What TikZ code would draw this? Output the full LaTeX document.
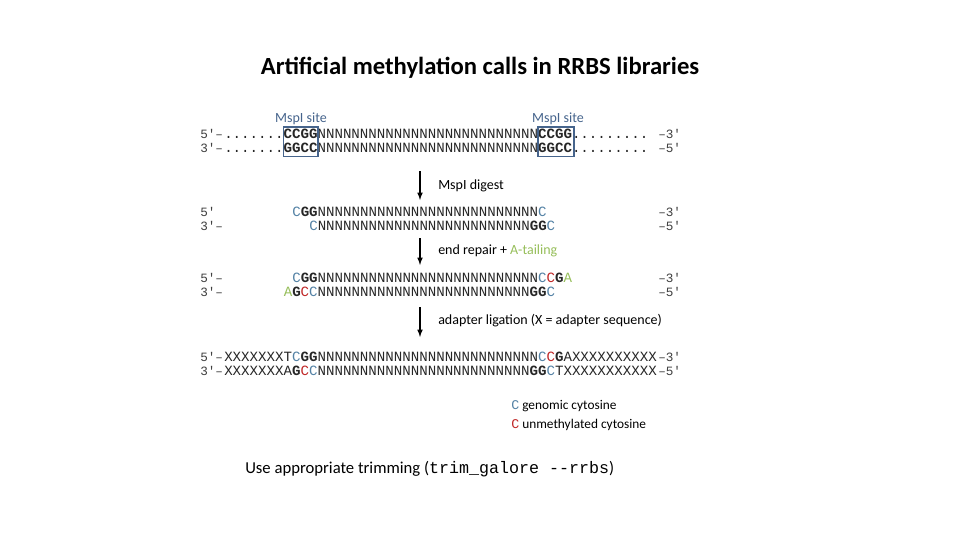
\documentclass[tikz,border=0pt]{standalone}
\usepackage{fontspec}
\setmainfont{Carlito}
\newfontfamily\seqf{Liberation Mono}
\definecolor{cblue}{RGB}{84,130,165}
\definecolor{cred}{RGB}{192,40,40}
\definecolor{cgreen}{RGB}{150,190,90}
\definecolor{lblue}{RGB}{70,100,140}
\newcommand{\Cb}{\textcolor{cblue}{C}}
\newcommand{\Cr}{\textcolor{cred}{C}}
\newcommand{\Ag}{\textcolor{cgreen}{A}}
\newcommand{\NNs}{NNNNNNNNNNNNNNNNNNNNNNNNNN}
\newcommand{\NNt}{NNNNNNNNNNNNNNNNNNNNNNNNN}
\begin{document}
\begin{tikzpicture}[x=0.75pt,y=-0.75pt,
  seq/.style={anchor=west,inner sep=0pt,font=\seqf\fontsize{10.6}{12}\selectfont,text=black!85},
  end/.style={anchor=west,inner sep=0pt,font=\seqf\fontsize{9.5}{12}\selectfont,text=black!75},
  lab/.style={anchor=west,inner sep=0pt,font=\fontsize{10.5}{12}\selectfont},
  arr/.style={-latex,line width=0.9pt}]
\useasboundingbox (0,0) rectangle (960,540);
\node[font=\bfseries\fontsize{18.5}{22}\selectfont] (title) at (480,68) {Artificial methylation calls in RRBS libraries};
% row1/2
\node[lab,text=lblue,anchor=center] (s1) at (301,119) {MspI site};
\node[lab,text=lblue,anchor=center] (s2) at (558,119) {MspI site};
\node[seq] (r1) at (224,134) {.......\textbf{CCGG}\NNs\textbf{CCGG}.........};
\node[seq] (r2) at (224,148) {.......\textbf{GGCC}\NNs\textbf{GGCC}.........};
\node[end] (l1) at (200,134) {5'–};
\node[end] (l2) at (200,148) {3'–};
\node[end] (e1) at (658,134) {–3'};
\node[end] (e2) at (658,148) {–5'};
\draw[lblue,line width=0.8pt] (283.5,127) rectangle (318,156.5);
\draw[lblue,line width=0.8pt] (538,127) rectangle (574,156.5);
\coordinate (a1s) at (420,171); \coordinate (a1e) at (420,200);
\draw[arr] (a1s) -- (a1e);
\node[lab] (m1) at (438,186) {MspI digest};
% row3/4
\node[end] (l3) at (200,212) {5'};
\node[end] (l4) at (200,226) {3'–};
\node[seq] (r3) at (292,212) {\Cb\textbf{GG}\NNs\Cb};
\node[seq] (r4) at (309,226) {\Cb\NNt\textbf{GG}\Cb};
\node[end] (e3) at (658,212) {–3'};
\node[end] (e4) at (658,226) {–5'};
\coordinate (a2s) at (420,238); \coordinate (a2e) at (420,265);
\draw[arr] (a2s) -- (a2e);
\node[lab] (m2) at (438,251) {end repair + \textcolor{cgreen}{A-tailing}};
% row5/6
\node[end] (l5) at (200,278) {5'–};
\node[end] (l6) at (200,292) {3'–};
\node[seq] (r5) at (292,278) {\Cb\textbf{GG}\NNs\Cb\Cr\textbf{G}\Ag};
\node[seq] (r6) at (283.5,292) {\Ag\textbf{G}\Cr\Cb\NNt\textbf{GG}\Cb};
\node[end] (e5) at (658,278) {–3'};
\node[end] (e6) at (658,292) {–5'};
\coordinate (a3s) at (420,307); \coordinate (a3e) at (420,337);
\draw[arr] (a3s) -- (a3e);
\node[lab] (m3) at (438,321) {adapter ligation (X = adapter sequence)};
% row7/8
\node[end] (l7) at (200,357) {5'–};
\node[end] (l8) at (200,371) {3'–};
\node[seq] (r7) at (224,357) {XXXXXXXT\Cb\textbf{GG}\NNs\Cb\Cr\textbf{G}AXXXXXXXXXX};
\node[seq] (r8) at (224,371) {XXXXXXXA\textbf{G}\Cr\Cb\NNt\textbf{GG}\Cb TXXXXXXXXXXX};
\node[end] (e7) at (658,357) {–3'};
\node[end] (e8) at (658,371) {–5'};
% legend
\node[lab,font=\fontsize{10}{12}\selectfont] (g1) at (511,406) {{\seqf\textcolor{cblue}{C}} genomic cytosine};
\node[lab,font=\fontsize{10}{12}\selectfont] (g2) at (511,425) {{\seqf\textcolor{cred}{C}} unmethylated cytosine};
\node[lab,font=\fontsize{12.5}{14}\selectfont] (bt) at (245,469) {Use appropriate trimming ({\seqf trim\_galore -{}-rrbs})};
\end{tikzpicture}
\end{document}
